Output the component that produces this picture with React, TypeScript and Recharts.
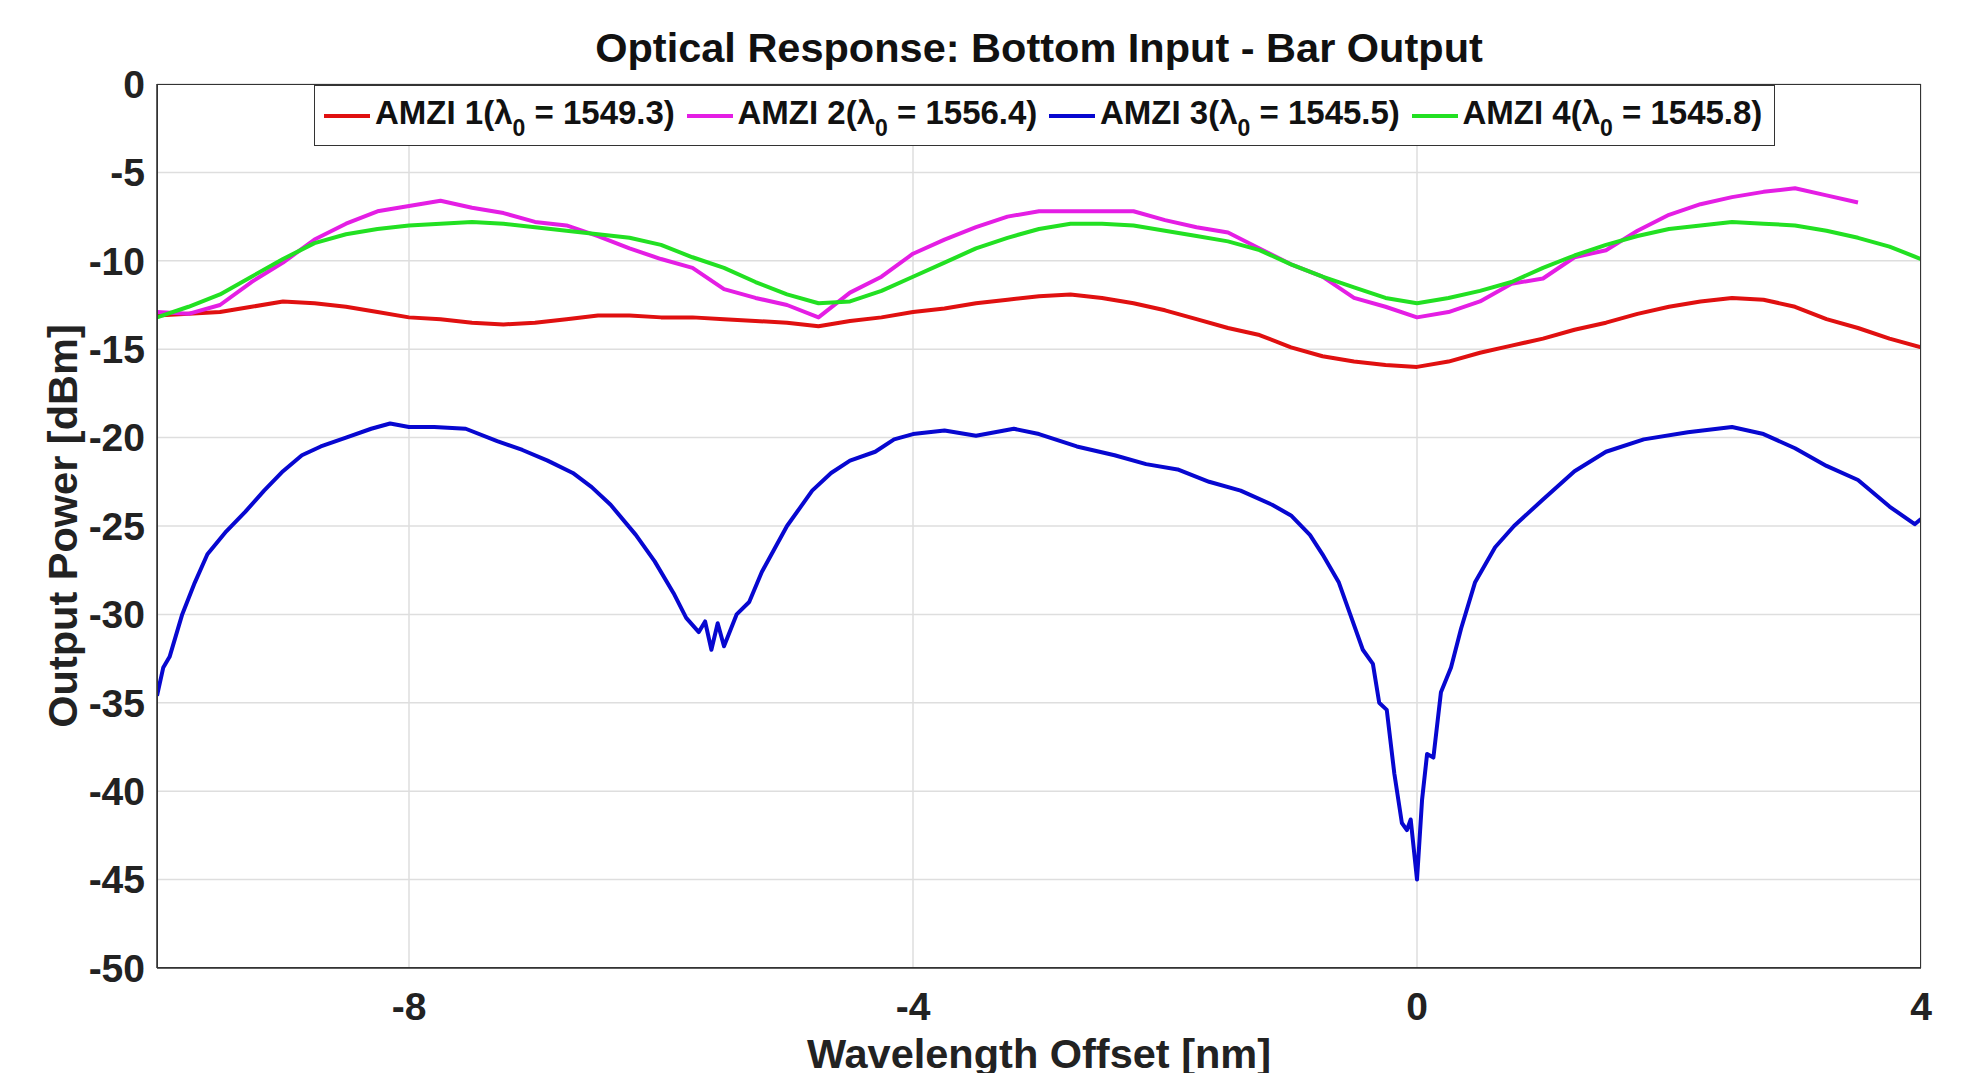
import { LineChart, Line, XAxis, YAxis, CartesianGrid } from 'recharts';

// wavelength offset grid [nm] shared by AMZI 1, 2, 4
const wl = [
  -10, -9.75, -9.5, -9.25, -9, -8.75, -8.5, -8.25, -8, -7.75, -7.5, -7.25, -7, -6.75, -6.5, -6.25,
  -6, -5.75, -5.5, -5.25, -5, -4.75, -4.5, -4.25, -4, -3.75, -3.5, -3.25, -3, -2.75, -2.5, -2.25,
  -2, -1.75, -1.5, -1.25, -1, -0.75, -0.5, -0.25, 0, 0.25, 0.5, 0.75, 1, 1.25, 1.5, 1.75, 2, 2.25,
  2.5, 2.75, 3, 3.25, 3.5, 3.75, 4,
];

const amzi1 = [
  -13.1, -13.0, -12.9, -12.6, -12.3, -12.4, -12.6, -12.9, -13.2, -13.3,
  -13.5, -13.6, -13.5, -13.3, -13.1, -13.1, -13.2, -13.2, -13.3, -13.4,
  -13.5, -13.7, -13.4, -13.2, -12.9, -12.7, -12.4, -12.2, -12.0, -11.9,
  -12.1, -12.4, -12.8, -13.3, -13.8, -14.2, -14.9, -15.4, -15.7, -15.9,
  -16.0, -15.7, -15.2, -14.8, -14.4, -13.9, -13.5, -13.0, -12.6, -12.3,
  -12.1, -12.2, -12.6, -13.3, -13.8, -14.4, -14.9,
];

// AMZI 2 stops at about 3.5 nm
const amzi2 = [
  -12.9, -13.0, -12.5, -11.2, -10.1, -8.8, -7.9, -7.2, -6.9, -6.6,
  -7.0, -7.3, -7.8, -8.0, -8.6, -9.3, -9.9, -10.4, -11.6, -12.1,
  -12.5, -13.2, -11.8, -10.9, -9.6, -8.8, -8.1, -7.5, -7.2, -7.2,
  -7.2, -7.2, -7.7, -8.1, -8.4, -9.3, -10.2, -10.9, -12.1, -12.6,
  -13.2, -12.9, -12.3, -11.3, -11.0, -9.8, -9.4, -8.3, -7.4, -6.8,
  -6.4, -6.1, -5.9, -6.3, -6.7,
];

const amzi4 = [
  -13.2, -12.6, -11.9, -10.9, -9.9, -9.0, -8.5, -8.2, -8.0, -7.9,
  -7.8, -7.9, -8.1, -8.3, -8.5, -8.7, -9.1, -9.8, -10.4, -11.2,
  -11.9, -12.4, -12.3, -11.7, -10.9, -10.1, -9.3, -8.7, -8.2, -7.9,
  -7.9, -8.0, -8.3, -8.6, -8.9, -9.4, -10.2, -10.9, -11.5, -12.1,
  -12.4, -12.1, -11.7, -11.2, -10.4, -9.7, -9.1, -8.6, -8.2, -8.0,
  -7.8, -7.9, -8.0, -8.3, -8.7, -9.2, -9.9,
];

// AMZI 3 needs finer sampling around its two notches
const wl3 = [
  -10, -9.95, -9.9, -9.8, -9.7, -9.6, -9.45, -9.3, -9.15, -9, -8.85, -8.7, -8.5, -8.3, -8.15,
  -8, -7.8, -7.55, -7.3, -7.1, -6.9, -6.7, -6.55, -6.4, -6.2, -6.05, -5.9, -5.8, -5.7, -5.65,
  -5.6, -5.55, -5.5, -5.4, -5.3, -5.2, -5.1, -5, -4.9, -4.8, -4.65, -4.5, -4.3, -4.15, -4,
  -3.75, -3.5, -3.2, -3, -2.7, -2.4, -2.15, -1.9, -1.65, -1.4, -1.15, -1, -0.85, -0.75, -0.62,
  -0.53, -0.43, -0.35, -0.3, -0.24, -0.18, -0.12, -0.08, -0.05, 0, 0.04, 0.08, 0.13, 0.19, 0.27,
  0.35, 0.46, 0.62, 0.77, 1, 1.25, 1.5, 1.8, 2.15, 2.5, 2.75, 3, 3.25, 3.5, 3.75, 3.95, 4,
];

const amzi3 = [
  -34.6, -33.0, -32.4, -30.0, -28.2, -26.6, -25.3, -24.2, -23.0, -21.9, -21.0, -20.5, -20.0, -19.5, -19.2,
  -19.4, -19.4, -19.5, -20.2, -20.7, -21.3, -22.0, -22.8, -23.8, -25.5, -27.0, -28.8, -30.2, -31.0, -30.4,
  -32.0, -30.5, -31.8, -30.0, -29.3, -27.6, -26.3, -25.0, -24.0, -23.0, -22.0, -21.3, -20.8, -20.1, -19.8,
  -19.6, -19.9, -19.5, -19.8, -20.5, -21.0, -21.5, -21.8, -22.5, -23.0, -23.8, -24.4, -25.5, -26.6, -28.2,
  -30.0, -32.0, -32.8, -35.0, -35.4, -39.0, -41.8, -42.2, -41.6, -45.0, -40.5, -37.9, -38.1, -34.4, -33.0,
  -30.8, -28.2, -26.2, -25.0, -23.5, -21.9, -20.8, -20.1, -19.7, -19.4, -19.8, -20.6, -21.6, -22.4, -23.9, -24.9, -24.6,
];

const xTicks = [-8, -4, 0, 4];
const yTicks = [-50, -45, -40, -35, -30, -25, -20, -15, -10, -5, 0];

const series = [
  { name: 'AMZI 1', lambda: '1549.3', color: '#e01010', xs: wl, ys: amzi1 },
  { name: 'AMZI 2', lambda: '1556.4', color: '#e41ee4', xs: wl, ys: amzi2 },
  { name: 'AMZI 3', lambda: '1545.5', color: '#0707d0', xs: wl3, ys: amzi3 },
  { name: 'AMZI 4', lambda: '1545.8', color: '#22e022', xs: wl, ys: amzi4 },
];

const toPoints = (xs: number[], ys: number[]) => ys.map((y, i) => ({ x: xs[i], y }));

const font = '"Liberation Sans", Arial, Helvetica, sans-serif';

// plot area inside the 1955x1065 wrapper
const plot = { left: 149, top: 76, right: 1913, bottom: 960 };

export default function App() {
  return (
    <div style={{ position: 'relative', width: 1955, height: 1065, fontFamily: font, background: '#fff' }}>
      <LineChart
        width={1955}
        height={1065}
        margin={{ top: plot.top, right: 1955 - plot.right, bottom: 45, left: 29 }}
      >
        <CartesianGrid stroke="#dedede" strokeWidth={1.5} horizontal vertical />
        <XAxis
          type="number"
          dataKey="x"
          domain={[-10, 4]}
          ticks={xTicks}
          height={60}
          allowDataOverflow
          axisLine={{ stroke: '#333', strokeWidth: 1.5 }}
          tickLine={false}
          tickSize={8}
          tickMargin={16}
          tick={{ fill: '#222', fontSize: 39, fontWeight: 700, fontFamily: font }}
        />
        <YAxis
          type="number"
          domain={[-50, 0]}
          ticks={yTicks}
          width={120}
          allowDataOverflow
          axisLine={{ stroke: '#333', strokeWidth: 1.5 }}
          tickLine={false}
          tickSize={4}
          tickMargin={8}
          tick={{ fill: '#222', fontSize: 39, fontWeight: 700, fontFamily: font }}
        />
        {series.map((s) => (
          <Line
            key={s.name}
            data={toPoints(s.xs, s.ys)}
            dataKey="y"
            type="linear"
            stroke={s.color}
            strokeWidth={4}
            strokeLinejoin="round"
            dot={false}
            isAnimationActive={false}
          />
        ))}
      </LineChart>

      {/* box around the axes, MATLAB style */}
      <div
        style={{
          position: 'absolute',
          left: plot.left,
          top: plot.top,
          width: plot.right - plot.left,
          height: plot.bottom - plot.top,
          border: '1.5px solid #333',
          boxSizing: 'border-box',
          pointerEvents: 'none',
        }}
      />

      <div
        style={{
          position: 'absolute',
          left: plot.left,
          width: plot.right - plot.left,
          top: 17,
          textAlign: 'center',
          fontSize: 41.5,
          fontWeight: 700,
          color: '#111',
          lineHeight: '46px',
        }}
      >
        Optical Response: Bottom Input - Bar Output
      </div>

      <div
        style={{
          position: 'absolute',
          left: plot.left,
          width: plot.right - plot.left,
          top: 1023,
          textAlign: 'center',
          fontSize: 41.5,
          fontWeight: 700,
          color: '#222',
          lineHeight: '46px',
        }}
      >
        Wavelength Offset [nm]
      </div>

      <div
        style={{
          position: 'absolute',
          left: 55,
          top: (plot.top + plot.bottom) / 2,
          transform: 'translate(-50%, -50%) rotate(-90deg)',
          whiteSpace: 'nowrap',
          fontSize: 41.5,
          fontWeight: 700,
          color: '#222',
          lineHeight: '46px',
        }}
      >
        Output Power [dBm]
      </div>

      {/* legend */}
      <div
        style={{
          position: 'absolute',
          left: 306,
          top: plot.top + 1,
          width: 1461,
          height: 61,
          border: '1.5px solid #333',
          boxSizing: 'border-box',
          background: '#fff',
          display: 'flex',
          alignItems: 'center',
          paddingLeft: 9,
        }}
      >
        {series.map((s) => (
          <div key={s.name} style={{ width: 365, display: 'flex', alignItems: 'center', whiteSpace: 'nowrap' }}>
            <span style={{ display: 'inline-block', width: 46, height: 4, background: s.color, marginRight: 5 }} />
            <span style={{ fontSize: 33, fontWeight: 700, color: '#111', lineHeight: '36px', marginTop: -6 }}>
              {s.name}(λ
              <sub style={{ fontSize: 23, verticalAlign: -12, lineHeight: 0 }}>0</sub> = {s.lambda})
            </span>
          </div>
        ))}
      </div>
    </div>
  );
}
